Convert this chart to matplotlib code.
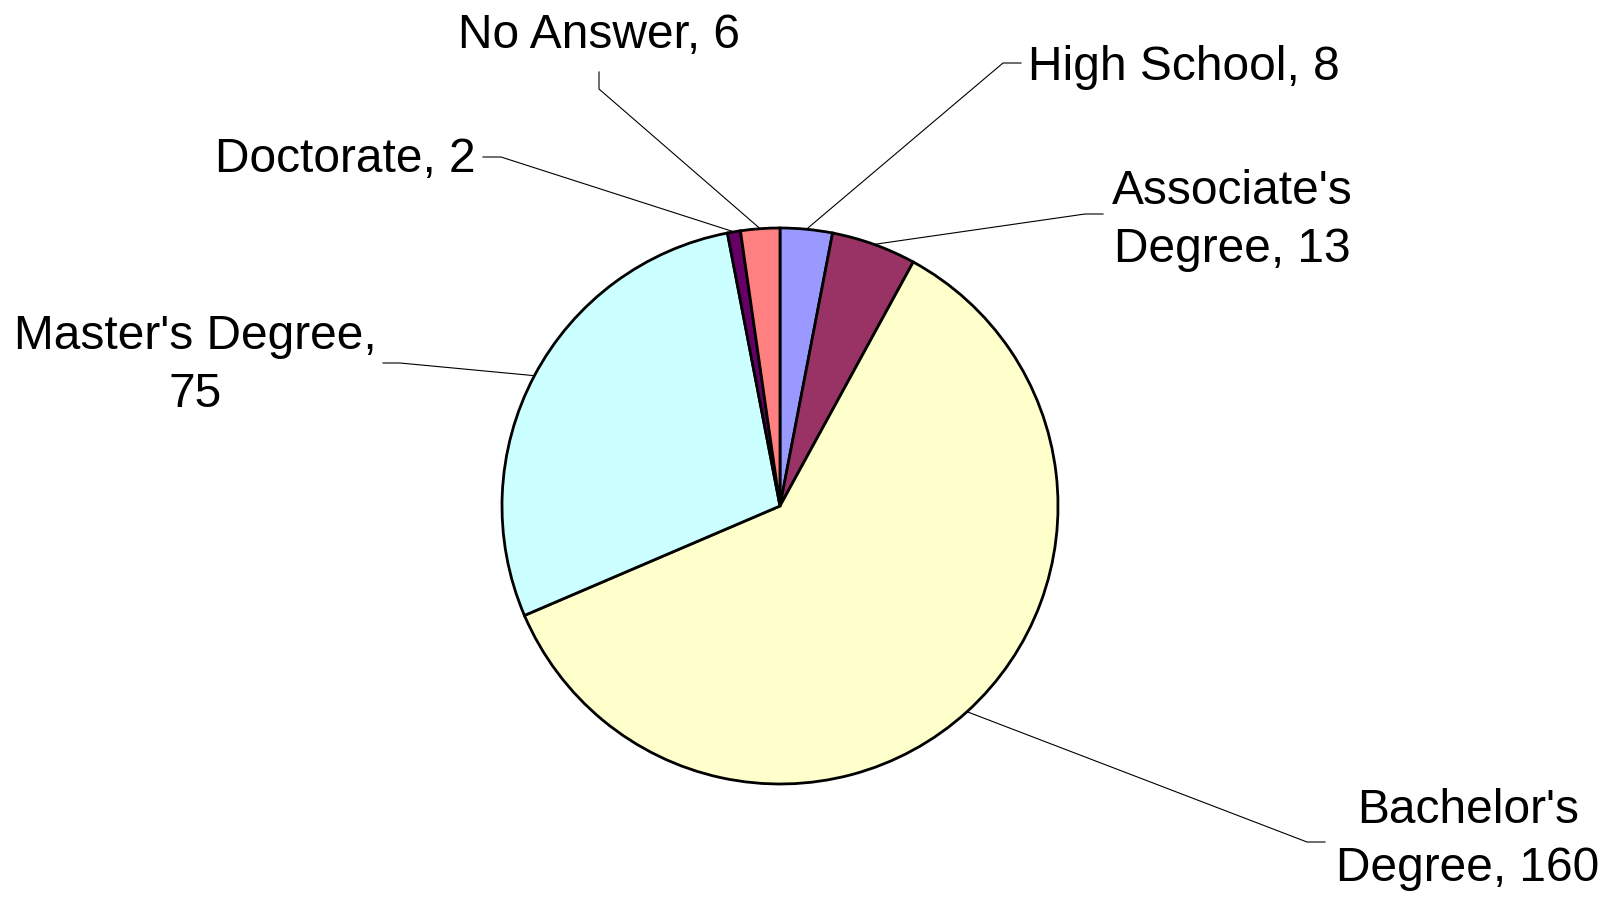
import numpy as np
import matplotlib
matplotlib.use("Agg")
import matplotlib.pyplot as plt

# data, clockwise from 12 o'clock
labels = ["High School", "Associate's\nDegree", "Bachelor's\nDegree",
          "Master's Degree,\n", "Doctorate", "No Answer"]
values = [8, 13, 160, 75, 2, 6]
colors = ["#9999FF", "#993366", "#FFFFCC", "#CCFFFF", "#660066", "#FF8080"]

W, H = 1610, 898
plt.rcParams['font.family'] = ['Liberation Sans', 'DejaVu Sans']

fig = plt.figure(figsize=(W / 100, H / 100), dpi=100)
ax = fig.add_axes([0, 0, 1, 1])

def Y(py):
    return H - py

cx, cy, r = 780, Y(506), 278
wedges, _ = ax.pie(values, colors=colors, startangle=90, counterclock=False,
                   center=(cx, cy), radius=r, frame=True,
                   wedgeprops=dict(edgecolor='black', linewidth=2.0))
ax.set_xlim(0, W)
ax.set_ylim(0, H)
ax.set_aspect('equal')
ax.axis('off')

# label layout: (text x, last-line baseline y, ha, leader points from text side toward pie)
layout = [
    (1028, 80, 'left', [(1021, 63), (1003, 63)]),
    (1232, 262, 'center', [(1103, 214), (1085, 214)]),
    (1468, 881, 'center', [(1325, 842), (1307, 842)]),
    (195, 407, 'center', [(383, 363), (400, 363)]),
    (475, 172, 'right', [(483, 157), (501, 157)]),
    (599, 48, 'center', [(599, 72), (599, 89)]),
]

for lab, val, w, (tx, ty, ha, pts) in zip(labels, values, wedges, layout):
    if lab.endswith("\n"):
        txt = lab + str(val)
    else:
        txt = "%s, %d" % (lab, val)
    ax.text(tx, Y(ty), txt, ha=ha, va='baseline', fontsize=34.5,
            multialignment='center', linespacing=1.36, color='black')
    mid = np.deg2rad((w.theta1 + w.theta2) / 2)
    ax_pt = (cx + r * np.cos(mid), cy + r * np.sin(mid))
    xs = [p[0] for p in pts] + [ax_pt[0]]
    ys = [Y(p[1]) for p in pts] + [ax_pt[1]]
    ax.plot(xs, ys, color='black', lw=0.8, zorder=0.5)

fig.savefig("out.png", dpi=100)
